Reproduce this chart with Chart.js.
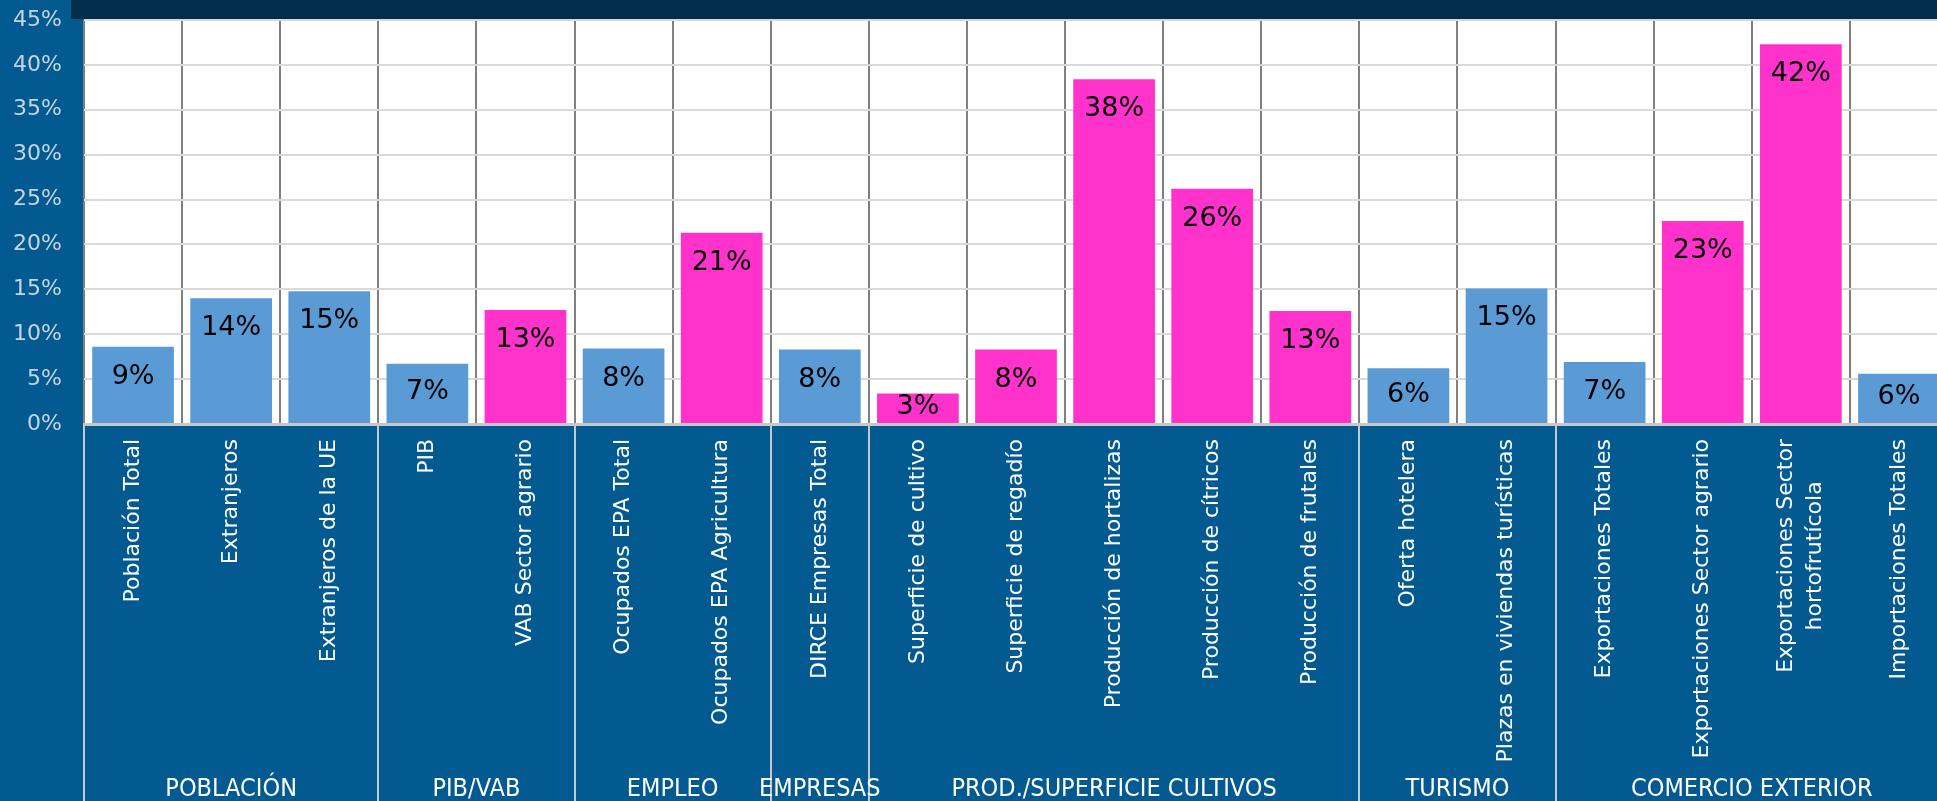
<!DOCTYPE html>
<html><head><meta charset="utf-8">
<script src="https://cdn.jsdelivr.net/npm/chart.js@4"></script>
<style>
html,body{margin:0;padding:0;background:#035a90;overflow:hidden;width:1937px;height:801px;}
#wrap{position:absolute;left:0;top:0;width:1960px;height:801px;}
canvas{display:block;}
</style></head><body>
<div id="wrap"><canvas id="c" width="1960" height="801"></canvas></div>
<script>
const categories = [
  'Población Total','Extranjeros','Extranjeros de la UE',
  'PIB','VAB Sector agrario',
  'Ocupados EPA Total','Ocupados EPA Agricultura',
  'DIRCE Empresas Total',
  'Superficie de cultivo','Superficie de regadío','Producción de hortalizas','Producción de cítricos','Producción de frutales',
  'Oferta hotelera','Plazas en viviendas turísticas',
  'Exportaciones Totales','Exportaciones Sector agrario',['Exportaciones Sector','hortofrutícola'],'Importaciones Totales'
];
const values = [8.6,14.0,14.8,6.7,12.7,8.4,21.3,8.3,3.4,8.3,38.4,26.2,12.6,6.2,15.1,6.9,22.6,42.3,5.6];
const agrarian = [0,0,0,0,1,0,1,0,1,1,1,1,1,0,0,0,1,1,0];
const groupNames = ['POBLACIÓN','PIB/VAB','EMPLEO','EMPRESAS','PROD./SUPERFICIE CULTIVOS','TURISMO','COMERCIO EXTERIOR'];
const groupSizes = [3,2,2,1,5,2,4];
const yMin = 0, yMax = 45, yStep = 5;

const FONT = "'DejaVu Sans', Verdana, sans-serif";

const bgPlugin = {
  id:'bg',
  beforeDraw(chart){
    const {ctx, chartArea:a, width} = chart;
    ctx.save();
    ctx.fillStyle = '#022e4c';
    ctx.fillRect(71, 0, width-71, a.top-1);
    ctx.fillStyle = '#ffffff';
    ctx.fillRect(a.left, a.top, a.right-a.left, a.bottom-a.top);
    ctx.restore();
  }
};

const labelPlugin = {
  id:'labels',
  afterDatasetsDraw(chart){
    const ctx = chart.ctx;
    const meta = chart.getDatasetMeta(0);
    ctx.save();
    ctx.font = "27px " + FONT;
    ctx.fillStyle = '#000000';
    ctx.textAlign = 'center';
    ctx.textBaseline = 'middle';
    meta.data.forEach((bar,i)=>{
      const h = bar.base - bar.y;
      const yc = bar.y + Math.min(30, h/2 - 1);
      ctx.fillText(Math.round(values[i]) + '%', bar.x, yc);
    });
    ctx.restore();
  },
  afterDraw(chart){
    const ctx = chart.ctx;
    const xs = chart.scales.x;
    const a = chart.chartArea;
    const n = categories.length;
    const cw = (a.right - a.left) / n;
    ctx.save();
    ctx.strokeStyle = '#c4c9ce';
    ctx.lineWidth = 2;
    let idx = 0;
    const bounds = [0];
    groupSizes.forEach(s=>{ idx += s; bounds.push(idx); });
    bounds.forEach(b=>{
      const x = Math.round(xs.getPixelForValue(Math.min(b, n-1)) + (b >= n ? cw/2 : -cw/2));
      ctx.beginPath();
      ctx.moveTo(x, a.bottom);
      ctx.lineTo(x, chart.height);
      ctx.stroke();
    });
    ctx.font = "22px " + FONT;
    ctx.fillStyle = '#ffffff';
    ctx.textBaseline = 'middle';
    ctx.textAlign = 'center';
    const lineH = 29;
    categories.forEach((lab,i)=>{
      const lines = Array.isArray(lab) ? lab : [lab];
      const wmax = Math.max(...lines.map(l=>ctx.measureText(l).width));
      const xc = xs.getPixelForValue(i);
      ctx.save();
      ctx.translate(xc, a.bottom + 15);
      ctx.rotate(-Math.PI/2);
      lines.forEach((l,k)=>{
        const off = (k - (lines.length-1)/2) * lineH;
        ctx.fillText(l, -wmax/2, off);
      });
      ctx.restore();
    });
    ctx.font = "25px " + FONT;
    let start = 0;
    groupNames.forEach((g,gi)=>{
      const s = groupSizes[gi];
      const x0 = xs.getPixelForValue(start) - cw/2;
      const x1 = xs.getPixelForValue(start + s - 1) + cw/2;
      ctx.save();
      ctx.translate((x0+x1)/2, 789);
      ctx.scale(0.9, 1);
      ctx.fillText(g, 0, 0);
      ctx.restore();
      start += s;
    });
    ctx.restore();
  }
};

new Chart(document.getElementById('c'), {
  type:'bar',
  data:{
    labels: categories,
    datasets:[{
      data: values,
      backgroundColor: agrarian.map(f => f ? '#ff33cc' : '#5b9bd5'),
      barPercentage: 0.833,
      categoryPercentage: 1
    }]
  },
  options:{
    responsive:false,
    animation:false,
    devicePixelRatio:1,
    layout:{padding:{top:20,right:12,left:0,bottom:0}},
    plugins:{legend:{display:false}, tooltip:{enabled:false}},
    scales:{
      x:{
        grid:{color:'#808080', lineWidth:2, drawTicks:false, offset:true},
        border:{color:'#c8c8c8', width:3},
        ticks:{display:false},
        afterFit(s){ s.height = 377; }
      },
      y:{
        min:yMin, max:yMax,
        ticks:{stepSize:yStep, callback:v => v + '%', color:'#c6d4e2', font:{family:FONT, size:22}, padding:4},
        grid:{color:'#d9d9d9', lineWidth:2, drawTicks:true, tickLength:18, tickColor:'rgba(0,0,0,0)'},
        border:{display:false},
        afterFit(s){ s.width = 84; }
      }
    }
  },
  plugins:[bgPlugin, labelPlugin]
});
</script>
</body></html>
